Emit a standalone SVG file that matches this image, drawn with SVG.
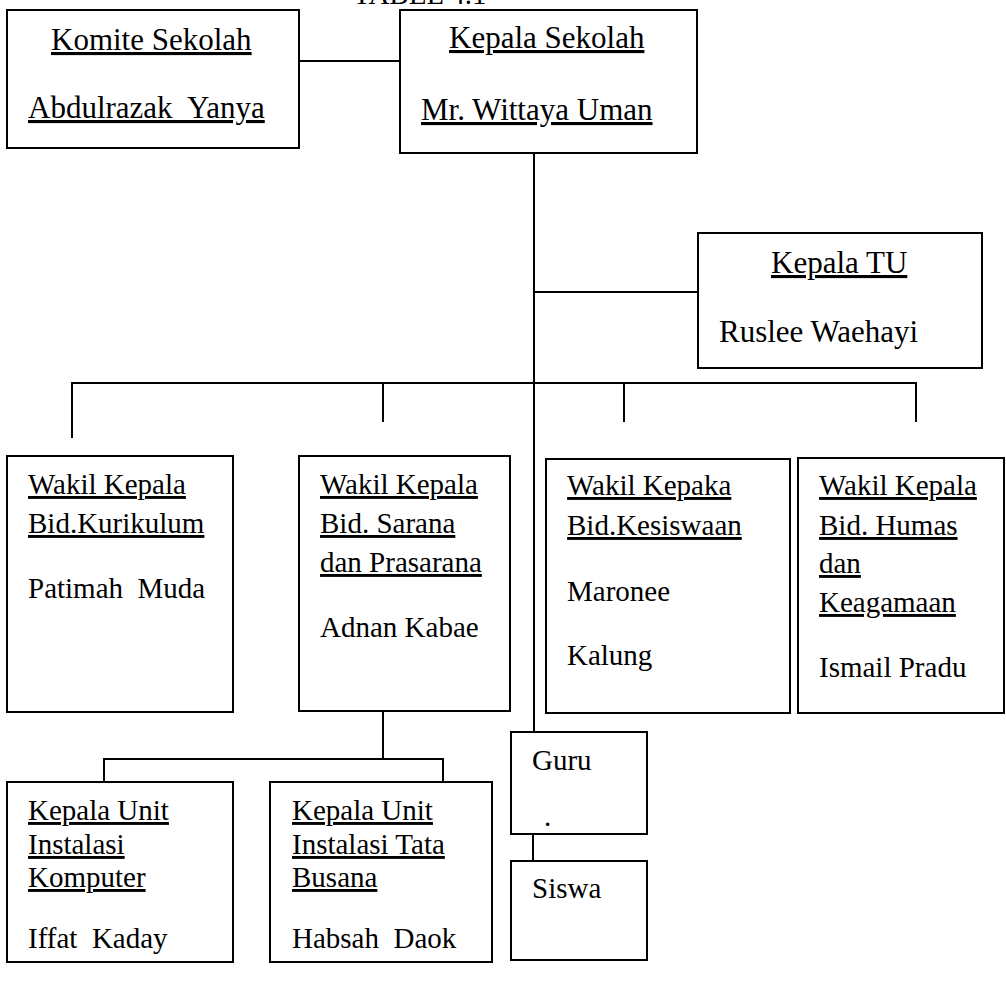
<svg xmlns="http://www.w3.org/2000/svg" width="1006" height="981" viewBox="0 0 1006 981">
<style>
text{font-family:"Liberation Serif","Times New Roman",serif;font-size:29px;fill:#000;white-space:pre}
.big{font-size:31px}
.u{text-decoration:underline}
rect{fill:#fff;stroke:#000;stroke-width:2}
.c line{stroke:#000;stroke-width:2}
</style>
<rect x="0" y="0" width="1006" height="981" style="stroke:none"/>
<text x="353" y="4" font-size="29">TABEL 4.1</text>
<g class="c" id="connectors">
<line x1="299" y1="61" x2="400" y2="61"/>
<line x1="534" y1="148" x2="534" y2="732"/>
<line x1="534" y1="292" x2="698" y2="292"/>
<line x1="71" y1="383" x2="917" y2="383"/>
<line x1="72" y1="383" x2="72" y2="438"/>
<line x1="383" y1="383" x2="383" y2="422"/>
<line x1="624" y1="383" x2="624" y2="422"/>
<line x1="916" y1="383" x2="916" y2="422"/>
<line x1="383" y1="692" x2="383" y2="759"/>
<line x1="103" y1="759" x2="444" y2="759"/>
<line x1="104" y1="759" x2="104" y2="782"/>
<line x1="443" y1="759" x2="443" y2="782"/>
<line x1="533" y1="825" x2="533" y2="861"/>
</g>
<g id="komite">
<rect x="7" y="10" width="292" height="138"/>
<text class="big u" x="51" y="50">Komite Sekolah</text>
<text class="big u" x="28" y="118">Abdulrazak  Yanya</text>
</g>
<g id="kepala-sekolah">
<rect x="400" y="10" width="297" height="143"/>
<text class="big u" x="449" y="48">Kepala Sekolah</text>
<text class="big u" x="421" y="120">Mr. Wittaya Uman</text>
</g>
<g id="kepala-tu">
<rect x="698" y="233" width="284" height="135"/>
<text class="big u" x="771" y="273">Kepala TU</text>
<text class="big" x="719" y="342">Ruslee Waehayi</text>
</g>
<g id="kurikulum">
<rect x="7" y="456" width="226" height="256"/>
<text class="u" x="28" y="494">Wakil Kepala</text>
<text class="u" x="28" y="533">Bid.Kurikulum</text>
<text x="28" y="598">Patimah  Muda</text>
</g>
<g id="sarana">
<rect x="299" y="456" width="211" height="255"/>
<text class="u" x="320" y="494">Wakil Kepala</text>
<text class="u" x="320" y="533">Bid. Sarana</text>
<text class="u" x="320" y="572">dan Prasarana</text>
<text x="320" y="637">Adnan Kabae</text>
</g>
<g id="kesiswaan">
<rect x="546" y="459" width="244" height="254"/>
<text class="u" x="567" y="495">Wakil Kepaka</text>
<text class="u" x="567" y="535">Bid.Kesiswaan</text>
<text x="567" y="601">Maronee</text>
<text x="567" y="665">Kalung</text>
</g>
<g id="humas">
<rect x="798" y="458" width="206" height="255"/>
<text class="u" x="819" y="495">Wakil Kepala</text>
<text class="u" x="819" y="535">Bid. Humas</text>
<text class="u" x="819" y="573">dan</text>
<text class="u" x="819" y="612">Keagamaan</text>
<text x="819" y="677">Ismail Pradu</text>
</g>
<g id="guru">
<rect x="511" y="732" width="136" height="102"/>
<text x="532" y="770">Guru</text>
<text x="544" y="826" font-size="12">.</text>
</g>
<g id="siswa">
<rect x="511" y="861" width="136" height="99"/>
<text x="532" y="898">Siswa</text>
</g>
<g id="komputer">
<rect x="7" y="782" width="226" height="180"/>
<text class="u" x="28" y="820">Kepala Unit</text>
<text class="u" x="28" y="854">Instalasi</text>
<text class="u" x="28" y="887">Komputer</text>
<text x="28" y="948">Iffat  Kaday</text>
</g>
<g id="busana">
<rect x="270" y="782" width="222" height="180"/>
<text class="u" x="292" y="820">Kepala Unit</text>
<text class="u" x="292" y="854">Instalasi Tata</text>
<text class="u" x="292" y="887">Busana</text>
<text x="292" y="948">Habsah  Daok</text>
</g>
</svg>
